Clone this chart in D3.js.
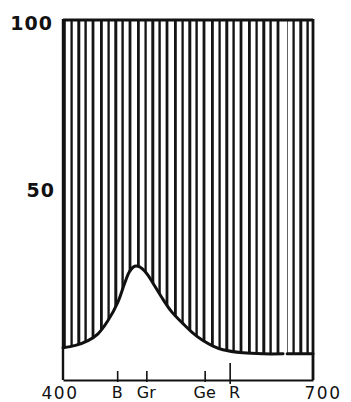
<!DOCTYPE html>
<html>
<head>
<meta charset="utf-8">
<script src="https://cdn.jsdelivr.net/npm/d3@7"></script>
<style>
  html, body { margin: 0; padding: 0; background: #fff; }
  svg { display: block; }
  text { font-family: "DejaVu Sans", sans-serif; fill: #111; }
</style>
</head>
<body>
<div id="chart"></div>
<script>
// spectral curve, wavelength (nm) vs percent
const wavelengths = [400, 415, 430, 442, 454, 466, 474, 480, 486, 492, 500, 508, 518, 530, 544, 556, 568, 580, 592, 616, 640, 664];
const values = [3.5, 4.2, 5.6, 7.6, 11.5, 17, 22.5, 26, 27.5, 27.3, 25.5, 22.5, 18.5, 14.2, 10.6, 7.8, 5.6, 4, 2.9, 2, 1.7, 1.7];
// short piece after the break
const tailWavelengths = [669, 700];
const tailValues = [1.7, 1.7];

const yTicks = [100, 50];
const colorTicks = [465, 500, 570, 600];
const colorLabels = ['B', 'Gr', 'Ge', 'R'];
const endTicks = [400, 700];

const W = 351, H = 402;
const padL = 63, padR = 313, padT = 20, padB = 380;

const svg = d3.select('#chart').append('svg')
  .attr('width', W)
  .attr('height', H);

const x = d3.scaleLinear().domain([400, 700]).range([padL, padR]);
const y = d3.scaleLinear().domain([-6, 100]).range([padB, padT]);

// hatching pattern, irregular vertical strokes
const defs = svg.append('defs');
const pat = defs.append('pattern')
  .attr('id', 'hatch')
  .attr('patternUnits', 'userSpaceOnUse')
  .attr('x', padL)
  .attr('y', 0)
  .attr('width', 37)
  .attr('height', 12);
[[1.4, 2.8], [8.6, 2.3], [15.8, 3], [22.6, 2.4], [30, 2.8]].forEach(d => {
  pat.append('rect')
    .attr('x', d[0] - d[1] / 2)
    .attr('y', 0)
    .attr('width', d[1])
    .attr('height', 12)
    .attr('fill', '#141414');
});

const main = wavelengths.map((w, i) => ({ w, v: values[i] }));
const tail = tailWavelengths.map((w, i) => ({ w, v: tailValues[i] }));

const area = d3.area()
  .x(d => x(d.w))
  .y0(y(100))
  .y1(d => y(d.v))
  .curve(d3.curveCatmullRom.alpha(0.5));

const line = d3.line()
  .x(d => x(d.w))
  .y(d => y(d.v))
  .curve(d3.curveCatmullRom.alpha(0.5));

[main, tail].forEach(seg => {
  svg.append('path')
    .attr('d', area(seg))
    .attr('fill', 'url(#hatch)');
  svg.append('path')
    .attr('d', line(seg))
    .attr('fill', 'none')
    .attr('stroke', '#111')
    .attr('stroke-width', 3)
    .attr('stroke-linecap', 'round');
});

// frame
const frame = svg.append('g')
  .attr('fill', 'none')
  .attr('stroke', '#111');
frame.append('line')
  .attr('x1', x(400)).attr('x2', x(700))
  .attr('y1', y(100)).attr('y2', y(100))
  .attr('stroke-width', 2.8);
frame.append('line')
  .attr('x1', x(400)).attr('x2', x(400))
  .attr('y1', y(100) - 1).attr('y2', padB)
  .attr('stroke-width', 2.4);
frame.append('line')
  .attr('x1', x(700)).attr('x2', x(700))
  .attr('y1', y(100) - 1).attr('y2', padB)
  .attr('stroke-width', 2.8);

// x axis
const xAxis = d3.axisBottom(x)
  .tickValues(colorTicks)
  .tickSize(0)
  .tickFormat('');
const gx = svg.append('g')
  .attr('transform', `translate(0,${padB})`)
  .call(xAxis);
gx.select('.domain')
  .attr('stroke', '#111')
  .attr('stroke-width', 2);
gx.selectAll('.tick line').remove();
gx.selectAll('.tick').append('line')
  .attr('y1', (d, i) => i === 3 ? -17 : -9)
  .attr('y2', (d, i) => i === 3 ? 4 : 2)
  .attr('stroke', '#111')
  .attr('stroke-width', 1.6);

svg.selectAll('.clabel')
  .data(colorTicks)
  .enter().append('text')
  .attr('class', 'clabel')
  .attr('x', (d, i) => x(d) + (i === 3 ? 5 : 0))
  .attr('y', 398)
  .attr('text-anchor', 'middle')
  .attr('font-size', 16)
  .text((d, i) => colorLabels[i]);

svg.selectAll('.elabel')
  .data(endTicks)
  .enter().append('text')
  .attr('class', 'elabel')
  .attr('x', (d, i) => x(d) + (i === 0 ? -3 : 10))
  .attr('y', 399)
  .attr('text-anchor', 'middle')
  .attr('font-size', 17)
  .attr('letter-spacing', 1.5)
  .text(d => d);

// y labels
svg.selectAll('.ylabel')
  .data(yTicks)
  .enter().append('text')
  .attr('class', 'ylabel')
  .attr('x', (d, i) => i === 0 ? 53 : 55)
  .attr('y', d => y(d) + (d === 100 ? 10 : 7))
  .attr('text-anchor', 'end')
  .attr('font-size', 19)
  .attr('font-weight', 'bold')
  .attr('letter-spacing', 1)
  .text(d => d);
</script>
</body>
</html>
